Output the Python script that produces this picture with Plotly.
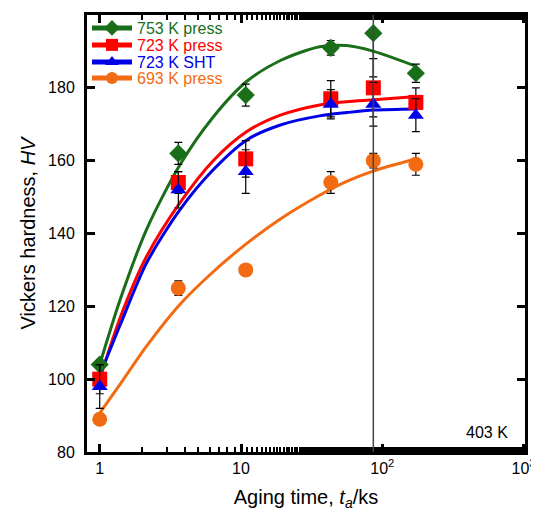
import plotly.graph_objects as go

# ---------------- data ----------------
t_pts = [1, 3.6, 10.8, 43.2, 86.4, 172.8]

hv_753 = [104, 162, 178, 191, 195, 184]
err_753_plus = [0, 3, 3, 2, 0, 2.5]
err_753_minus = [0, 3, 3, 2, 12, 2.5]

hv_723p = [100, 154, 160.5, 177, 180, 176]
err_723p = [4, 3, 5, 5, 8, 4]

hv_723s = [98, 152, 157, 175.5, 175.5, 172.5]
err_723s = [6, 5, 6, 4, 6, 4.5]

hv_693 = [89, 125, 130, 154, 160, 159]
err_693 = [0, 2, 0, 3, 2, 3]

# fitted curves
t_fit = [1, 1.4, 2.14, 3.69, 6.36, 11, 19, 36, 56, 87, 176]
fit_753 = [104, 122, 141, 158.8, 172, 181.8, 187.5, 191.3, 191.6, 190, 185.8]
fit_723p = [100, 117, 133.6, 148.4, 160, 168, 172.5, 175.3, 176.2, 176.7, 177.6]
fit_723s = [101, 115, 131.8, 146.5, 157.5, 165.7, 169.8, 172.3, 173.2, 173.9, 174.2]
fit_693 = [90.7, 98.7, 109, 120.5, 129.5, 137.3, 144, 150.5, 154.3, 157.2, 160.6]

names = ["753 K press", "723 K press", "723 K SHT", "693 K press"]
colors = ["#1a6e1a", "#ff0000", "#0000e6", "#f26b12"]
symbols = ["diamond", "square", "triangle-up", "circle"]
sizes = [14, 15, 14, 15]

aging_line_t = 86.4
x_ticks = [1, 10, 100, 1000]
x_ticktext = ["1", "10", "10<sup>2</sup>", "10<sup>3</sup>"]
y_ticks = [80, 100, 120, 140, 160, 180, 200]

FONT = "Arial, Liberation Sans, sans-serif"

fig = go.Figure()

fits = [fit_753, fit_723p, fit_723s, fit_693]
pts = [hv_753, hv_723p, hv_723s, hv_693]
errs = [
    dict(type="data", array=err_753_plus, arrayminus=err_753_minus, symmetric=False),
    dict(type="data", array=err_723p),
    dict(type="data", array=err_723s),
    dict(type="data", array=err_693),
]

for i in range(4):
    fig.add_trace(go.Scatter(
        x=t_fit, y=fits[i], mode="lines",
        line=dict(color=colors[i], width=3, shape="spline", smoothing=0.8),
        showlegend=False, hoverinfo="skip"))

for i in range(4):
    e = errs[i]
    e.update(color="black", thickness=1.2, width=4)
    fig.add_trace(go.Scatter(
        x=t_pts, y=pts[i], mode="markers",
        marker=dict(symbol=symbols[i], size=sizes[i], color=colors[i], line=dict(width=0)),
        error_y=e, showlegend=False))

# legend entries (one legend per entry to control spacing and text color)
# page body adds an 8px offset, so the figure is drawn 8px smaller
legend_y_px = [20, 37, 54, 70]
plot_top, plot_bot = 7, 444
legend_ids = ["legend", "legend2", "legend3", "legend4"]
for i in range(4):
    fig.add_trace(go.Scatter(
        x=[None], y=[None], mode="lines+markers", name=names[i],
        line=dict(color=colors[i], width=3),
        marker=dict(symbol=symbols[i], size=sizes[i], color=colors[i]),
        legend=legend_ids[i], showlegend=True))

layout_legends = {}
for i in range(4):
    ypaper = (plot_bot - legend_y_px[i]) / (plot_bot - plot_top)
    layout_legends[legend_ids[i]] = dict(
        x=0.0, y=ypaper, xanchor="left", yanchor="middle",
        bgcolor="rgba(0,0,0,0)", borderwidth=0,
        font=dict(family=FONT, size=16, color=colors[i]),
        itemwidth=40, itemsizing="constant",
    )

fig.add_shape(type="line", x0=aging_line_t, x1=aging_line_t, y0=0, y1=1,
              xref="x", yref="paper", line=dict(color="#444444", width=1.5))

fig.add_annotation(text="403 K", x=0.965, y=0.045, xref="paper", yref="paper",
                   xanchor="right", yanchor="middle", showarrow=False,
                   font=dict(family=FONT, size=16, color="black"))

fig.update_layout(
    width=531, height=505,
    margin=dict(l=79, r=14, t=7, b=61, autoexpand=False),
    paper_bgcolor="white", plot_bgcolor="white",
    font=dict(family=FONT, size=16, color="black"),
    **layout_legends,
)

fig.update_xaxes(
    type="log", range=[-0.09, 3.01], automargin=False,
    tickvals=x_ticks, ticktext=x_ticktext,
    ticks="inside", ticklen=8, tickwidth=2.5, tickcolor="black",
    minor=dict(ticks="inside", ticklen=5, tickwidth=2, tickcolor="black", showgrid=False),
    showline=True, linewidth=3, linecolor="black", mirror="allticks",
    showgrid=False, zeroline=False,
    tickfont=dict(family=FONT, size=16),
    title=dict(text="Aging time, <i>t</i><sub><i>a</i></sub>/ks", font=dict(family=FONT, size=20), standoff=14),
)
fig.update_yaxes(
    range=[80, 200], tickvals=y_ticks, automargin=False,
    ticks="inside", ticklen=8, tickwidth=2.5, tickcolor="black",
    ticklabelstandoff=6,
    showline=True, linewidth=3, linecolor="black", mirror="allticks",
    showgrid=False, zeroline=False,
    tickfont=dict(family=FONT, size=16),
    title=dict(text="Vickers hardness, <i>HV</i>", font=dict(family=FONT, size=20), standoff=8),
)

fig.write_html("out.html")
